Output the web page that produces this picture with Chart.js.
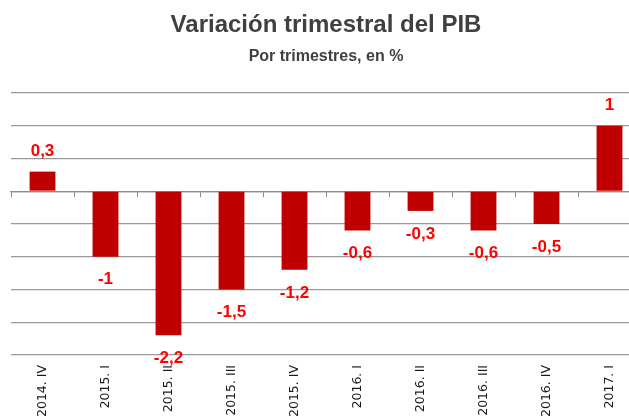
<!DOCTYPE html>
<html>
<head>
<meta charset="utf-8">
<script src="https://cdn.jsdelivr.net/npm/chart.js@4/dist/chart.umd.min.js"></script>
<style>
  html, body { margin: 0; padding: 0; background: #fff; }
  body { width: 629px; height: 416px; overflow: hidden; position: relative; }
  #chart { position: absolute; left: 0; top: 0; }
  .head { position: absolute; left: 0; width: 652px; text-align: center;
          font-family: "Liberation Sans", Arial, sans-serif; font-weight: bold; color: #404040; }
  #title { top: 10px; font-size: 24px; }
  #subtitle { top: 47px; font-size: 16px; }
</style>
</head>
<body>
<canvas id="chart" width="680" height="440"></canvas>
<div class="head" id="title">Variación trimestral del PIB</div>
<div class="head" id="subtitle">Por trimestres, en %</div>
<script>
// Chart data
const quarters = ['2014. IV', '2015. I', '2015. II', '2015. III', '2015. IV',
                  '2016. I', '2016. II', '2016. III', '2016. IV', '2017. I'];
const gdpChange = [0.3, -1, -2.2, -1.5, -1.2, -0.6, -0.3, -0.6, -0.5, 1];
const yMin = -2.5;
const yMax = 1.5;
const yStep = 0.5;

// Colours
const BAR_COLOR = '#c00000';
const LABEL_COLOR = '#ff0000';
const GRID_COLOR = '#999999';

function formatValue(v) {
    return String(v).replace('.', ',');
}

// Draws the value above / below each bar
const valueLabels = {
    id: 'valueLabels',
    afterDatasetsDraw(chart) {
        const ctx = chart.ctx;
        const meta = chart.getDatasetMeta(0);
        ctx.save();
        ctx.font = 'bold 17px "Liberation Sans", Arial, sans-serif';
        ctx.fillStyle = LABEL_COLOR;
        ctx.textAlign = 'center';
        ctx.textBaseline = 'middle';
        meta.data.forEach((bar, i) => {
            const v = gdpChange[i];
            const y = v >= 0 ? bar.y - 20 : bar.y + 23;
            ctx.fillText(formatValue(v), bar.x, y);
        });
        ctx.restore();
    }
};

new Chart(document.getElementById('chart'), {
    type: 'bar',
    data: {
        labels: quarters,
        datasets: [{
            data: gdpChange,
            xAxisID: 'x',
            backgroundColor: BAR_COLOR,
            borderWidth: 0,
            barPercentage: 0.41,
            categoryPercentage: 1
        }]
    },
    options: {
        responsive: false,
        animation: false,
        layout: { padding: { left: 11, top: 93, right: 39, bottom: 0 } },
        plugins: {
            legend: { display: false },
            tooltip: { enabled: false }
        },
        scales: {
            // axis line crossing at zero, with tick marks between categories
            x: {
                type: 'category',
                position: { y: 0 },
                offset: true,
                grid: { offset: true, drawOnChartArea: false, drawTicks: true, tickLength: 5, color: '#8c8c8c' },
                border: { display: true, color: '#8c8c8c', width: 1.2 },
                ticks: { display: false }
            },
            // category labels at the bottom
            x2: {
                type: 'category',
                position: 'bottom',
                offset: true,
                grid: { display: false, drawTicks: false },
                border: { display: false },
                ticks: {
                    minRotation: 90,
                    maxRotation: 90,
                    autoSkip: false,
                    padding: 10,
                    color: '#1a1a1a',
                    font: { family: '"DejaVu Sans", Verdana, sans-serif', size: 12.5 }
                },
                afterFit(scale) { scale.height = 85; }
            },
            y: {
                min: yMin,
                max: yMax,
                ticks: { display: false, stepSize: yStep },
                grid: { color: GRID_COLOR, lineWidth: 1.2, drawTicks: false },
                border: { display: false }
            }
        }
    },
    plugins: [valueLabels]
});
</script>
</body>
</html>
